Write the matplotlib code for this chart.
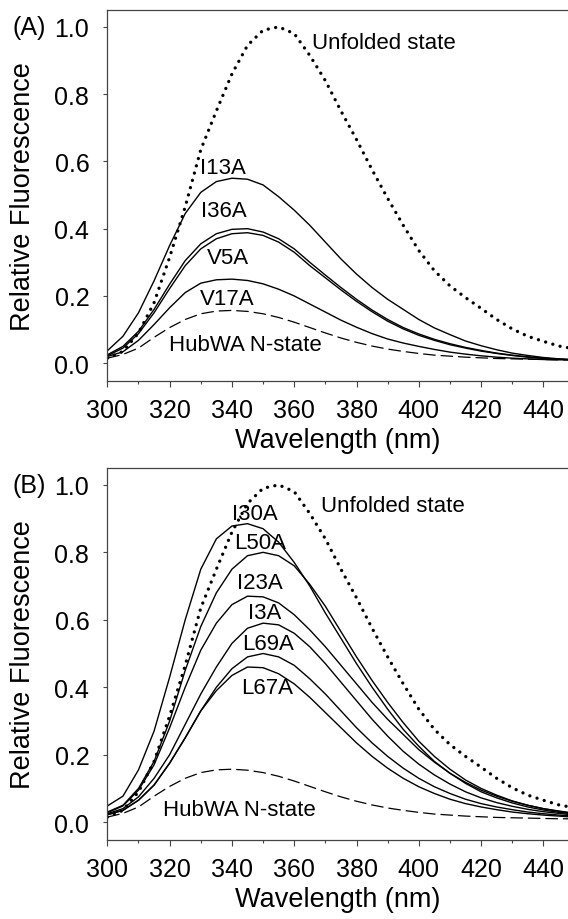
import matplotlib
matplotlib.use("Agg")
import matplotlib.pyplot as plt
from matplotlib.ticker import MultipleLocator, FormatStrFormatter

plt.rcParams['font.family'] = ['Liberation Sans', 'DejaVu Sans']

# wavelength grid (nm)
wl = [300, 305, 310, 315, 320, 325, 330, 335, 340, 345, 350, 355, 360, 365, 370,
      375, 380, 385, 390, 395, 400, 405, 410, 415, 420, 425, 430, 435, 440, 445, 448]

unfolded = [.015, .035, .09, .18, .315, .465, .635, .75, .86, .945, .99, 1.0, .98, .915, .84,
            .75, .665, .575, .49, .41, .335, .275, .23, .195, .163, .13, .102, .08, .065, .051, .046]
n_state = [.015, .026, .045, .077, .106, .13, .147, .155, .157, .154, .147, .136, .122, .106, .09,
           .075, .062, .051, .042, .035, .029, .024, .021, .018, .016, .014, .013, .012, .011, .010, .010]

# panel A mutants
i13a = [.037, .08, .15, .245, .35, .445, .508, .54, .55, .547, .53, .495, .455, .41, .36,
        .31, .265, .225, .19, .16, .13, .105, .085, .066, .052, .04, .03, .023, .017, .013, .011]
i36a = [.025, .05, .095, .16, .235, .305, .355, .385, .398, .40, .39, .37, .34, .30, .262,
        .225, .19, .158, .13, .106, .087, .071, .058, .047, .038, .03, .024, .019, .015, .012, .011]
v5a = [.022, .045, .088, .15, .222, .29, .34, .37, .385, .388, .38, .36, .33, .29, .254,
       .218, .184, .153, .125, .102, .083, .068, .055, .045, .036, .029, .023, .018, .014, .012, .011]
v17a = [.02, .034, .068, .115, .165, .21, .238, .248, .25, .246, .236, .22, .2, .176, .152,
        .128, .107, .088, .072, .06, .05, .041, .033, .027, .022, .018, .015, .013, .011, .010, .010]

# panel B mutants
i30a = [.048, .077, .155, .27, .43, .60, .75, .84, .878, .885, .87, .83, .77, .70, .62,
        .545, .47, .40, .335, .275, .225, .18, .145, .115, .09, .072, .057, .045, .036, .029, .026]
l50a = [.03, .05, .10, .18, .30, .45, .58, .68, .75, .79, .80, .79, .76, .705, .64,
        .565, .49, .42, .355, .295, .24, .195, .157, .125, .10, .08, .063, .05, .04, .032, .028]
i23a = [.028, .048, .095, .17, .28, .40, .51, .59, .645, .67, .668, .65, .615, .57, .52,
        .465, .41, .355, .305, .26, .215, .178, .145, .118, .095, .077, .062, .05, .04, .033, .029]
i3a = [.025, .04, .075, .13, .20, .29, .38, .46, .53, .575, .59, .585, .56, .52, .47,
       .415, .36, .305, .255, .21, .172, .14, .113, .09, .072, .058, .047, .038, .031, .026, .023]
l69a = [.022, .035, .065, .11, .175, .25, .33, .40, .455, .49, .50, .49, .465, .425, .38,
        .33, .28, .235, .195, .16, .13, .105, .085, .068, .055, .045, .037, .03, .025, .021, .019]
l67a = [.022, .035, .065, .11, .175, .25, .33, .39, .435, .46, .458, .44, .41, .37, .325,
        .28, .235, .195, .16, .13, .105, .085, .068, .055, .045, .037, .03, .025, .021, .018, .016]

mutants_a = [i13a, i36a, v5a, v17a]
mutants_b = [i30a, l50a, i23a, i3a, l69a, l67a]

# curve labels: (text, wavelength, value)
labels_a = [("I13A", 337, 0.582), ("I36A", 337.5, 0.454), ("V5A", 338.8, 0.315),
            ("V17A", 338.6, 0.191)]
labels_b = [("I30A", 347.4, 0.914), ("L50A", 349, 0.83), ("I23A", 349, 0.711),
            ("I3A", 350.6, 0.622), ("L69A", 351.5, 0.531), ("L67A", 351.4, 0.40)]

SPINE = "#444444"


def style_axes(ax):
    ax.set_xlim(300, 447.9)
    ax.set_ylim(-0.052, 1.05)
    ax.spines['right'].set_visible(False)
    for s in ['left', 'top', 'bottom']:
        ax.spines[s].set_color(SPINE)
        ax.spines[s].set_linewidth(0.9)
    ax.xaxis.set_major_locator(MultipleLocator(20))
    ax.xaxis.set_minor_locator(MultipleLocator(10))
    ax.yaxis.set_major_locator(MultipleLocator(0.2))
    ax.yaxis.set_major_formatter(FormatStrFormatter('%.1f'))
    ax.tick_params(axis='x', which='major', direction='out', length=4.5, width=0.8,
                   color=SPINE, labelsize=18, pad=8)
    ax.tick_params(axis='x', which='minor', direction='out', length=2.5, width=0.8, color=SPINE)
    ax.tick_params(axis='y', which='major', direction='out', length=3, width=0.8,
                   color=SPINE, labelsize=18, pad=10)
    ax.set_xlabel("Wavelength (nm)", fontsize=19.5)
    ax.set_ylabel("Relative Fluorescence", fontsize=19.5)
    ax.xaxis.set_label_coords(0.5, -0.125)
    ax.yaxis.set_label_coords(-0.155, 0.5)


def draw_panel(ax, mutants, labels, unf_xy, nst_xy):
    ax.plot(wl, unfolded, color='black', lw=2.4, linestyle=(0, (0.01, 2.25)),
            dash_capstyle='round')
    ax.plot(wl, n_state, color='black', lw=0.9, linestyle=(0, (10, 4)))
    for m in mutants:
        ax.plot(wl, m, color='black', lw=1.0)
    for txt, x, y in labels:
        ax.text(x, y, txt, fontsize=16, ha='center', va='center')
    ax.text(unf_xy[0], unf_xy[1], "Unfolded state", fontsize=16, ha='left', va='center')
    ax.text(nst_xy[0], nst_xy[1], "HubWA N-state", fontsize=16, ha='left', va='center')
    style_axes(ax)


fig = plt.figure(figsize=(5.68, 9.2), dpi=100)
axA = fig.add_axes([0.189, 0.5851, 0.811, 0.4029])
axB = fig.add_axes([0.189, 0.0862, 0.811, 0.404])

draw_panel(axA, mutants_a, labels_a, (365.6, 0.954), (319.8, 0.057))
draw_panel(axB, mutants_b, labels_b, (368.5, 0.939), (318, 0.038))

fig.text(12.7 / 568, 1 - 28 / 920, "(A)", fontsize=18, ha='left', va='center')
fig.text(12.7 / 568, 1 - 486 / 920, "(B)", fontsize=18, ha='left', va='center')

fig.savefig("out.png", dpi=100)
